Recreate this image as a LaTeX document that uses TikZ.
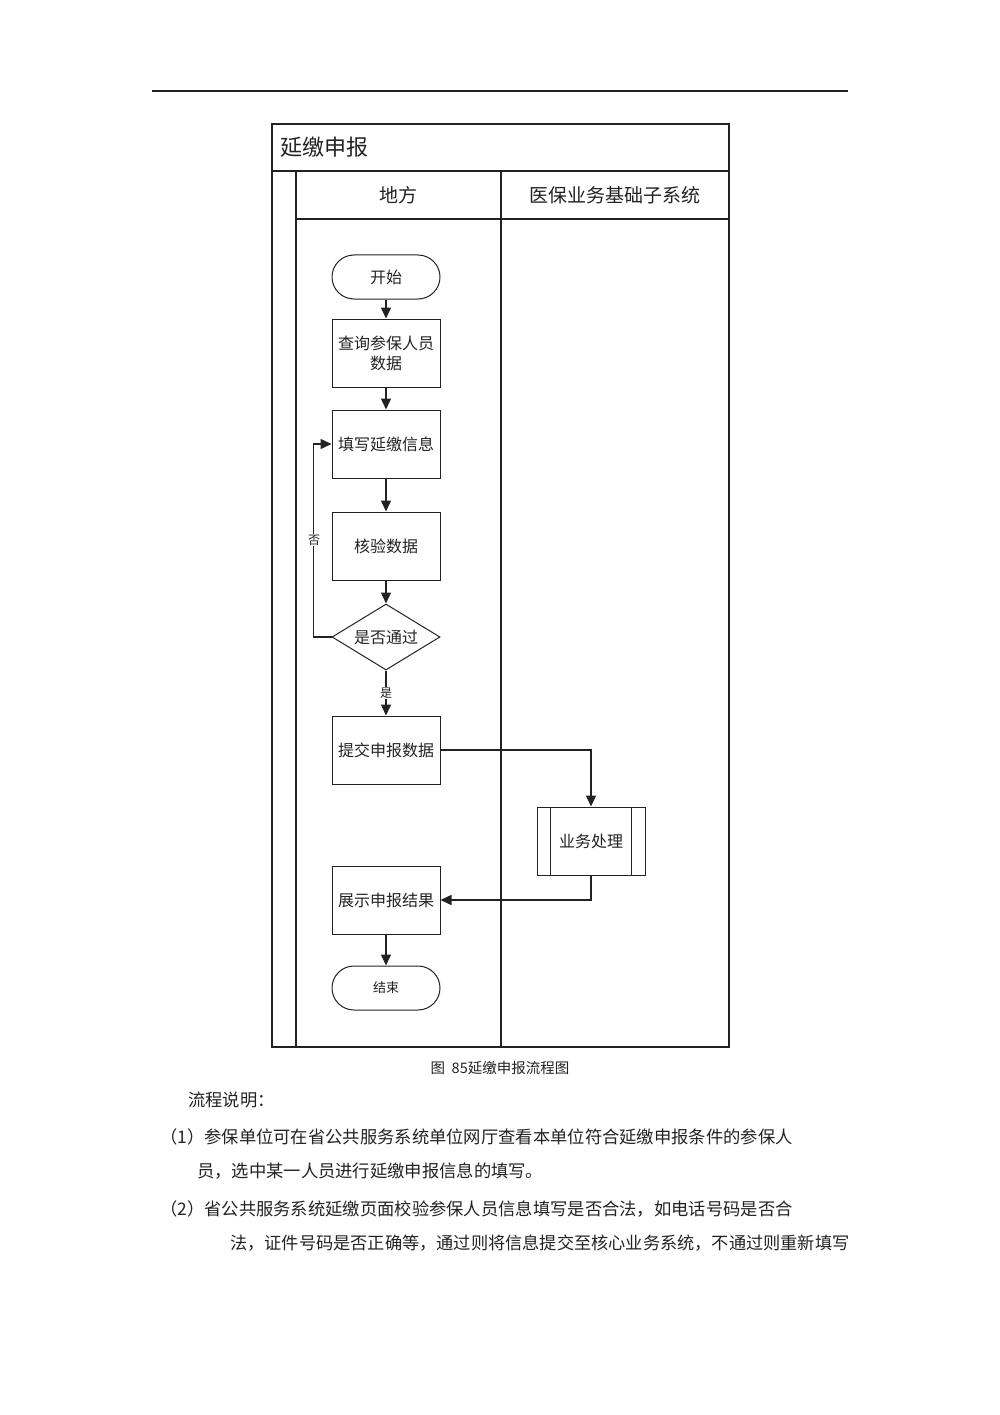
\documentclass[tikz,border=0pt]{standalone}
\usepackage{fontspec}
\setmainfont{Noto Sans CJK SC}
\usetikzlibrary{shapes.geometric,arrows.meta}
\definecolor{ink}{HTML}{222222}
\begin{document}
\begin{tikzpicture}[x=1pt,y=-1pt,
  every node/.style={text=ink},
  frame/.style={draw=ink,line width=1.4pt},
  proc/.style={draw=ink,line width=1pt,minimum width=108pt,minimum height=68pt,inner sep=0pt,font=\fontsize{16}{20}\selectfont,align=center},
  term/.style={draw=ink,line width=1pt,minimum width=108pt,minimum height=44pt,inner sep=0pt,rounded corners=22pt},
  dec/.style={draw=ink,line width=1pt,diamond,aspect=1.64,minimum width=108pt,minimum height=66pt,inner sep=0pt,font=\fontsize{16}{20}\selectfont},
  arr/.style={draw=ink,line width=1.5pt,-{Triangle[length=11pt,width=10pt]}},
  lab/.style={fill=white,inner sep=1pt,font=\fontsize{12}{14}\selectfont},
  body/.style={anchor=west,inner sep=0pt,font=\fontsize{17.3}{22}\selectfont}
]
\useasboundingbox (0,0) rectangle (1000,1415);
% top rule
\draw[draw=ink,line width=1.4pt] (152,91) -- (848,91);
% pool
\draw[frame] (272,124) rectangle (729,1047);
\draw[frame] (272,171) -- (729,171);
\draw[frame] (296,171) -- (296,1047);
\draw[frame] (296,219) -- (729,219);
\draw[frame] (501,171) -- (501,1047);
\node[anchor=west,inner sep=0pt,font=\fontsize{22}{26}\selectfont] (title) at (280,147) {延缴申报};
\node[font=\fontsize{19}{22}\selectfont] (lane1) at (398,195) {地方};
\node[font=\fontsize{19}{22}\selectfont] (lane2) at (615,195) {医保业务基础子系统};
% nodes
\node[term,font=\fontsize{16}{20}\selectfont] (start) at (386,277) {开始};
\node[proc] (query) at (386,353) {查询参保人员\\数据};
\node[proc] (fill) at (386,444) {填写延缴信息};
\node[proc] (check) at (386,546) {核验数据};
\node[dec] (pass) at (386,637) {是否通过};
\node[proc] (submit) at (386,750) {提交申报数据};
\node[proc] (biz) at (591,841) {业务处理};
\draw[draw=ink,line width=1pt] ([xshift=14pt]biz.north west) -- ([xshift=14pt]biz.south west);
\draw[draw=ink,line width=1pt] ([xshift=-14pt]biz.north east) -- ([xshift=-14pt]biz.south east);
\node[proc] (show) at (386,900) {展示申报结果};
\node[term,font=\fontsize{13}{16}\selectfont] (end) at (386,988) {结束};
% connectors
\draw[arr] (start) -- (query);
\draw[arr] (query) -- (fill);
\draw[arr] (fill) -- (check);
\draw[arr] (check) -- (pass);
\draw[arr] (pass) -- (submit) node[lab,pos=0.5] (yes) {是};
\draw[arr] (pass.west) -- ++(-18,0) coordinate (lp) |- (fill.west);
\node[lab] (no) at (314,540) {否};
\draw[arr] (submit.east) -| (biz.north);
\draw[arr] (biz.south) |- (show.east);
\draw[arr] (show) -- (end);
% caption and text
\node[font=\fontsize{14.5}{17}\selectfont] (cap) at (500,1068) {图\ \ 85延缴申报流程图};
\node[body] (t0) at (188,1100) {流程说明：};
\node[body] (t1) at (160,1137) {（1）参保单位可在省公共服务系统单位网厅查看本单位符合延缴申报条件的参保人};
\node[body] (t2) at (197,1171) {员，选中某一人员进行延缴申报信息的填写。};
\node[body] (t3) at (160,1209) {（2）省公共服务系统延缴页面校验参保人员信息填写是否合法，如电话号码是否合};
\node[body,font=\fontsize{17.2}{22}\selectfont] (t4) at (230,1243) {法，证件号码是否正确等，通过则将信息提交至核心业务系统，不通过则重新填写};
\end{tikzpicture}
\end{document}
